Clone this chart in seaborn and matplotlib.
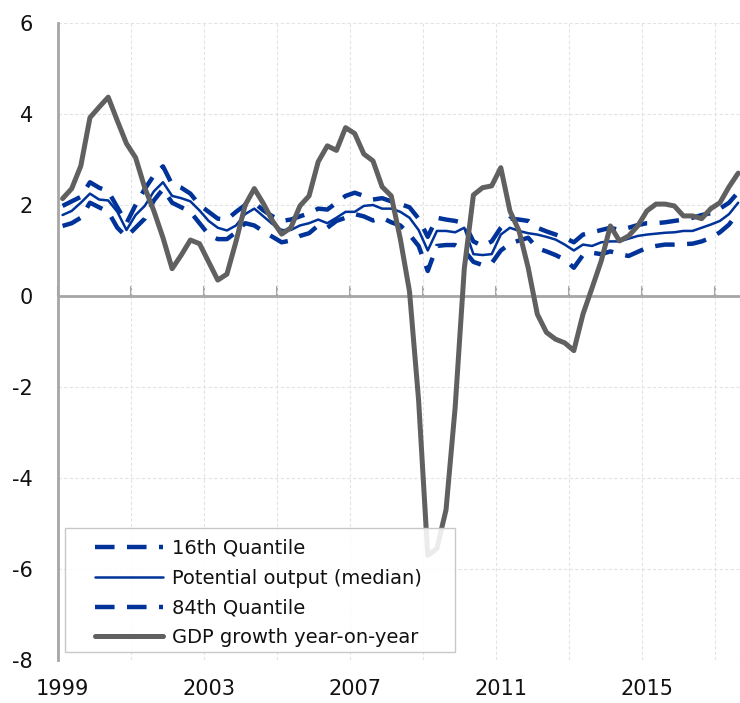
import numpy as np
import pandas as pd
import matplotlib
matplotlib.use("Agg")
import matplotlib.pyplot as plt
from matplotlib.patches import Rectangle
import seaborn as sns

sns.set_style("white")
plt.rcParams['font.family'] = ['DejaVu Sans']

# quarterly data, 1999Q1 .. 2017Q3
years = ["1999", "2003", "2007", "2011", "2015"]

gdp = [2.14, 2.36, 2.86, 3.92, 4.15, 4.37, 3.85, 3.35, 3.04, 2.38,
       1.87, 1.28, 0.60, 0.90, 1.23, 1.15, 0.75, 0.35, 0.48, 1.20,
       2.00, 2.36, 2.03, 1.65, 1.36, 1.50, 1.98, 2.20, 2.95, 3.30,
       3.20, 3.70, 3.57, 3.12, 2.97, 2.40, 2.20, 1.25, 0.10, -2.30,
       -5.70, -5.55, -4.70, -2.45, 0.60, 2.22, 2.38, 2.42, 2.82, 1.87,
       1.43, 0.62, -0.40, -0.80, -0.95, -1.03, -1.20, -0.40, 0.18, 0.77,
       1.54, 1.21, 1.32, 1.54, 1.87, 2.02, 2.02, 1.98, 1.76, 1.76,
       1.70, 1.92, 2.05, 2.40, 2.70]

median = [1.78, 1.87, 2.05, 2.25, 2.12, 2.10, 1.85, 1.45, 1.78, 1.98,
          2.30, 2.50, 2.20, 2.15, 2.08, 1.88, 1.65, 1.50, 1.44, 1.55,
          1.80, 1.92, 1.75, 1.58, 1.45, 1.45, 1.55, 1.60, 1.68, 1.60,
          1.72, 1.85, 1.85, 1.98, 2.00, 1.92, 1.92, 1.85, 1.72, 1.45,
          1.00, 1.43, 1.43, 1.40, 1.50, 0.92, 0.90, 0.92, 1.35, 1.50,
          1.43, 1.38, 1.35, 1.30, 1.24, 1.13, 1.00, 1.13, 1.10, 1.18,
          1.20, 1.20, 1.26, 1.32, 1.35, 1.37, 1.39, 1.40, 1.43, 1.43,
          1.50, 1.57, 1.65, 1.80, 2.05]

q84 = [1.98, 2.08, 2.18, 2.50, 2.38, 2.30, 1.95, 1.60, 2.00, 2.35,
       2.65, 2.85, 2.45, 2.38, 2.25, 2.00, 1.85, 1.70, 1.68, 1.85,
       2.00, 2.05, 1.88, 1.75, 1.65, 1.68, 1.75, 1.82, 1.92, 1.90,
       2.05, 2.20, 2.27, 2.20, 2.12, 2.15, 2.08, 2.02, 1.95, 1.70,
       1.30, 1.72, 1.68, 1.65, 1.60, 1.20, 1.10, 1.20, 1.50, 1.70,
       1.68, 1.65, 1.50, 1.42, 1.35, 1.28, 1.18, 1.35, 1.40, 1.45,
       1.50, 1.45, 1.50, 1.56, 1.60, 1.60, 1.62, 1.65, 1.68, 1.72,
       1.78, 1.82, 1.92, 2.05, 2.28]

q16 = [1.54, 1.60, 1.72, 2.05, 1.95, 1.85, 1.50, 1.30, 1.50, 1.70,
       2.10, 2.35, 2.05, 1.95, 1.85, 1.60, 1.35, 1.25, 1.25, 1.40,
       1.60, 1.55, 1.42, 1.30, 1.18, 1.22, 1.32, 1.38, 1.55, 1.50,
       1.65, 1.72, 1.80, 1.75, 1.66, 1.72, 1.62, 1.55, 1.35, 1.10,
       0.55, 1.10, 1.12, 1.12, 1.00, 0.75, 0.68, 0.72, 1.00, 1.15,
       1.22, 1.28, 1.05, 0.98, 0.90, 0.80, 0.62, 0.90, 0.95, 0.92,
       0.98, 0.92, 0.88, 0.97, 1.06, 1.10, 1.13, 1.13, 1.14, 1.15,
       1.20, 1.28, 1.40, 1.57, 1.84]

n = len(gdp)
df = pd.DataFrame({
    "q": np.arange(n),
    "q16": q16,
    "median": median,
    "q84": q84,
    "gdp": gdp,
})

BLUE = "#003399"
GREY = "#606060"
AXC = "#a6a6a6"
dash = (0, (4.4, 2.8))

W, H = 740, 703
fig = plt.figure(figsize=(W / 100, H / 100), dpi=100)
ax = fig.add_axes([58 / W, 1 - 660 / H, 1 - 58 / W, (660 - 23) / H])

sns.lineplot(data=df, x="q", y="q16", ax=ax, color=BLUE, lw=3.2, linestyle=dash,
             label="16th Quantile", sort=False)
sns.lineplot(data=df, x="q", y="median", ax=ax, color=BLUE, lw=1.8,
             label="Potential output (median)", sort=False)
sns.lineplot(data=df, x="q", y="q84", ax=ax, color=BLUE, lw=3.2, linestyle=dash,
             label="84th Quantile", sort=False)
sns.lineplot(data=df, x="q", y="gdp", ax=ax, color=GREY, lw=3.6,
             label="GDP growth year-on-year", sort=False)

ax.set_xlim(-0.5, 74.2)
ax.set_ylim(-8, 6)
ax.set_xlabel("")
ax.set_ylabel("")

# y axis
ax.set_yticks(np.arange(-8, 7, 2))
ax.set_yticklabels([str(v) for v in range(-8, 7, 2)])
ax.tick_params(axis="y", direction="out", length=8, width=1.5, color=AXC,
               labelsize=15, labelcolor="#111111", pad=10)

# x axis: grid at year boundaries, labels every 4 years at the bottom
bounds = np.arange(-0.5, n, 8)
ax.set_xticks(bounds)
ax.set_xticklabels([])
ax.set_xticks(np.arange(0, n, 16), minor=True)
ax.set_xticklabels(years, minor=True)
ax.tick_params(axis="x", which="both", length=0, labelsize=15,
               labelcolor="#111111", pad=14)

ax.grid(True, which="major", color="#e3e3e3", linestyle=(0, (3, 2)), lw=0.8)

for s in ["top", "right", "bottom"]:
    ax.spines[s].set_visible(False)
ax.spines["left"].set_color(AXC)
ax.spines["left"].set_linewidth(2)

# category axis crossing at zero, with its tick marks
ax.axhline(0, color=AXC, lw=2, zorder=1.5)
sec = ax.secondary_xaxis(8 / 14)
sec.set_xticks(bounds)
sec.set_xticklabels([])
sec.tick_params(direction="out", length=7, width=1.5, color=AXC)
sec.spines["bottom"].set_visible(False)

# legend box (semi-transparent, sits over the GDP line)
box = Rectangle((7 / 682, 8 / 637), 390 / 682, 124 / 637, transform=ax.transAxes,
                facecolor="white", alpha=0.88, edgecolor="none", zorder=4)
ax.add_patch(box)
ax.add_patch(Rectangle((7 / 682, 8 / 637), 390 / 682, 124 / 637, transform=ax.transAxes,
                       facecolor="none", edgecolor="#c8c8c8", lw=1.0, zorder=4.1))

leg = ax.legend(loc="lower left", bbox_to_anchor=(37 / 682, 13 / 637), borderaxespad=0,
                fontsize=14, frameon=False, handlelength=3.5, labelspacing=0.55,
                borderpad=0, handletextpad=0.45)
leg.set_zorder(5)
for t in leg.get_texts():
    t.set_color("#111111")

fig.savefig("out.png", dpi=100)
